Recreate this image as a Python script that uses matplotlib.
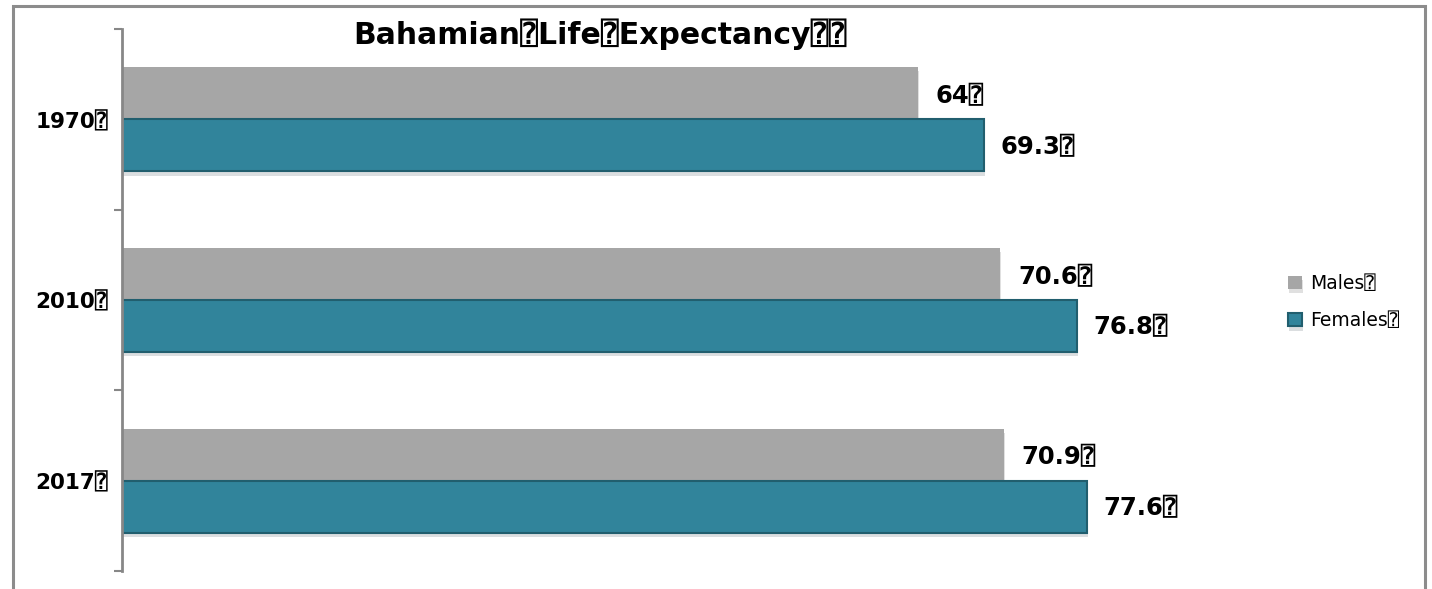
import matplotlib
matplotlib.use("Agg")
import matplotlib.pyplot as plt
import matplotlib.patheffects as pe
from matplotlib.patches import Rectangle
import numpy as np

years = ["1970", "2010", "2017"]
males = [64, 70.6, 70.9]
females = [69.3, 76.8, 77.6]
male_labels = ["64", "70.6", "70.9"]
female_labels = ["69.3", "76.8", "77.6"]
series_names = ["Males", "Females"]
title = "Bahamian Life Expectancy"

TOFU = "\u2370"
FAM = ["DejaVu Sans", "DejaVu Sans Mono"]

W, H = 1432, 589
fig = plt.figure(figsize=(W / 100, H / 100), dpi=100)

# outer frame
frame = Rectangle((13 / W, -0.1), 1412 / W, 1 - 6 / H + 0.1, transform=fig.transFigure,
                  fill=False, edgecolor="#8C8C8C", linewidth=2.2, clip_on=False)
fig.patches.append(frame)

ax = fig.add_axes([122 / W, 1 - 571 / H, (1240 - 122) / W, (571 - 29) / H])

y = np.arange(len(years))
bh = 0.288
shadow = [pe.SimplePatchShadow(offset=(1, -3), alpha=0.15), pe.Normal()]
mb = ax.barh(y - bh / 2, males, height=bh, color="#A6A6A6", edgecolor="none",
             label=series_names[0] + TOFU)
fb = ax.barh(y + bh / 2, females, height=bh, color="#31849B", edgecolor="#215E6E",
             linewidth=1.5, label=series_names[1] + TOFU)
for b in list(mb) + list(fb):
    b.set_path_effects(shadow)

for yi, v, lab in zip(y, males, male_labels):
    ax.annotate(lab + TOFU, (v, yi - bh / 2), xytext=(13, -2), textcoords="offset points",
                va="center", ha="left", fontsize=17.5, fontweight="bold", family=FAM)
for yi, v, lab in zip(y, females, female_labels):
    ax.annotate(lab + TOFU, (v, yi + bh / 2), xytext=(12, -1), textcoords="offset points",
                va="center", ha="left", fontsize=17.5, fontweight="bold", family=FAM)

ax.set_xlim(0, 89.9)
ax.set_ylim(2.5, -0.5)

for s in ["top", "right", "bottom"]:
    ax.spines[s].set_visible(False)
ax.spines["left"].set_color("#878787")
ax.spines["left"].set_linewidth(2)
ax.set_xticks([])
ax.set_yticks([-0.5, 0.5, 1.5, 2.5])
ax.set_yticklabels([])
ax.tick_params(axis="y", which="major", length=6, width=1.5, color="#878787")
ax.set_yticks(y, minor=True)
ax.set_yticklabels([t + TOFU for t in years], minor=True, fontsize=15.5,
                   fontweight="bold", family=FAM)
ax.tick_params(axis="y", which="minor", length=0, pad=10)

fig.text(600 / W, 1 - 34 / H, title.replace(" ", TOFU) + TOFU + TOFU, ha="center", va="center",
         fontsize=21.5, fontweight="bold", family=FAM)

leg = ax.legend(loc="center left", bbox_to_anchor=(1271 / W, 1 - 302 / H),
                bbox_transform=fig.transFigure, frameon=False,
                handlelength=0.75, handleheight=0.7, handletextpad=0.45, labelspacing=1.0,
                prop={"family": FAM, "size": 13.5})

fig.savefig("out.png", dpi=100, facecolor="white")
